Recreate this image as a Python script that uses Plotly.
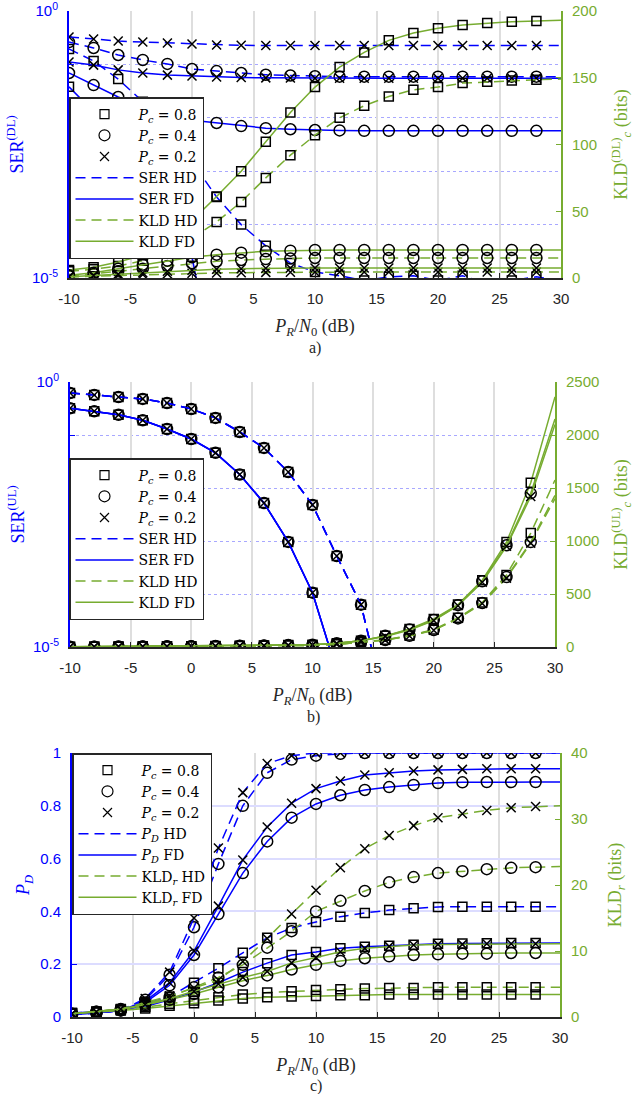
import plotly.graph_objects as go

W, H = 634, 1094
def px(x): return x / W
def py(y): return 1 - y / H

# ---------------- data ----------------
snr_db = [-10, -8, -6, -4, -2, 0, 2, 4, 6, 8, 10, 12, 14, 16, 18, 20, 22, 24, 26, 28, 30]
x_ticks = [-10, -5, 0, 5, 10, 15, 20, 25, 30]
x_tick_text = ["-10", "-5", "0", "5", "10", "15", "20", "25", "30"]
pc_labels = ["0.8", "0.4", "0.2"]

# panel a) downlink
ser_dl_hd_08 = [0.194, 0.116, 0.053, 0.02, 0.006, 0.0015, 3.3e-4, 1.0e-4, 4e-5, 1.9e-5, 1.3e-5, 1.1e-5, 9e-6, 1.05e-5, 1.1e-5, 9e-6, 1.1e-5, 8e-6, 9e-6, 1.05e-5, 9e-6]
ser_dl_fd_08 = [0.038, 0.013, 0.004, 0.0012, 2.5e-4, 2.5e-5, 1e-7, 1e-8, 1e-8, 1e-8, 1e-8, 1e-8, 1e-8, 1e-8, 1e-8, 1e-8, 1e-8, 1e-8, 1e-8, 1e-8, 1e-8]
ser_dl_hd_04 = [0.262, 0.203, 0.150, 0.121, 0.102, 0.082, 0.075, 0.069, 0.064, 0.062, 0.060, 0.059, 0.059, 0.059, 0.059, 0.059, 0.059, 0.059, 0.059, 0.059, 0.059]
ser_dl_fd_04 = [0.069, 0.041, 0.0245, 0.016, 0.011, 0.0090, 0.0080, 0.0070, 0.0064, 0.0061, 0.0059, 0.0058, 0.0057, 0.0057, 0.0057, 0.0057, 0.0057, 0.0057, 0.0057, 0.0057, 0.0057]
ser_dl_hd_02 = [0.326, 0.30, 0.274, 0.262, 0.252, 0.241, 0.231, 0.228, 0.226, 0.225, 0.225, 0.225, 0.225, 0.225, 0.225, 0.225, 0.225, 0.225, 0.225, 0.225, 0.225]
ser_dl_fd_02 = [0.111, 0.097, 0.079, 0.069, 0.063, 0.0605, 0.058, 0.057, 0.056, 0.0555, 0.055, 0.055, 0.055, 0.055, 0.055, 0.055, 0.055, 0.055, 0.055, 0.055, 0.055]
kld_dl_hd_08 = [5, 6.5, 9, 13, 20, 30, 42, 57, 75, 92, 107, 120, 129, 136, 141, 143, 146, 147, 148, 148.5, 149]
kld_dl_fd_08 = [6, 8, 12, 17, 26, 43, 61, 80, 102, 124, 143, 158, 169, 178, 183.5, 187, 189.5, 191, 192, 192.5, 193]
kld_dl_hd_04 = [1.5, 3, 5, 7, 9, 11, 12.5, 13.5, 14.2, 14.6, 15, 15, 15, 15, 15, 15, 15, 15, 15, 15, 15]
kld_dl_fd_04 = [2, 4, 7, 10, 13, 15.5, 17.5, 19, 20, 20.5, 21, 21, 21, 21, 21, 21, 21, 21, 21, 21, 21]
kld_dl_hd_02 = [0.8, 1.3, 2, 2.6, 3.1, 3.5, 3.8, 4, 4.2, 4.3, 4.5, 4.5, 4.5, 4.5, 4.5, 4.5, 4.5, 4.5, 4.5, 4.5, 4.5]
kld_dl_fd_02 = [1, 2, 3, 4, 5, 5.8, 6.5, 7, 7.3, 7.5, 7.5, 7.5, 7.5, 7.5, 7.5, 7.5, 7.5, 7.5, 7.5, 7.5, 7.5]

# panel b) uplink
ser_ul_hd = [0.62, 0.57, 0.52, 0.48, 0.40, 0.31, 0.21, 0.114, 0.057, 0.020, 0.0048, 5.2e-4, 6.3e-5, 1e-6, 1e-8, 1e-8, 1e-8, 1e-8, 1e-8, 1e-8, 1e-8]
ser_ul_fd = [0.32, 0.28, 0.24, 0.19, 0.13, 0.084, 0.046, 0.018, 0.0052, 9.6e-4, 1.06e-4, 3.5e-6, 1e-8, 1e-8, 1e-8, 1e-8, 1e-8, 1e-8, 1e-8, 1e-8, 1e-8]
kld_ul_fd_08 = [2, 3, 4, 5, 6, 8, 10, 12, 15, 18, 22, 35, 60, 105, 170, 265, 400, 630, 990, 1550, 2360]
kld_ul_fd_04 = [2, 3, 4, 5, 6, 8, 10, 12, 15, 18, 22, 35, 60, 105, 165, 255, 395, 620, 960, 1450, 2150]
kld_ul_fd_02 = [2, 3, 4, 5, 6, 8, 10, 12, 15, 18, 22, 35, 60, 100, 160, 250, 390, 610, 950, 1420, 2100]
kld_ul_hd_08 = [1, 2, 3, 4, 5, 6, 7, 9, 11, 13, 15, 25, 45, 68, 108, 165, 275, 420, 680, 1075, 1575]
kld_ul_hd_04 = [1, 2, 3, 4, 5, 6, 7, 9, 11, 13, 15, 25, 45, 66, 105, 160, 270, 415, 660, 990, 1430]
kld_ul_hd_02 = [1, 2, 3, 4, 5, 6, 7, 9, 11, 13, 15, 25, 45, 65, 104, 158, 268, 410, 650, 980, 1400]

# panel c) detection
pd_hd_08 = [0.015, 0.02, 0.03, 0.05, 0.077, 0.13, 0.185, 0.243, 0.30, 0.337, 0.36, 0.38, 0.394, 0.405, 0.412, 0.417, 0.418, 0.418, 0.418, 0.418, 0.418]
pd_fd_08 = [0.015, 0.02, 0.028, 0.04, 0.065, 0.095, 0.13, 0.17, 0.204, 0.235, 0.246, 0.26, 0.266, 0.27, 0.274, 0.277, 0.278, 0.279, 0.28, 0.28, 0.28]
pd_hd_04 = [0.01, 0.015, 0.025, 0.065, 0.16, 0.34, 0.58, 0.80, 0.925, 0.975, 0.99, 0.997, 1, 1, 1, 1, 1, 1, 1, 1, 1]
pd_fd_04 = [0.01, 0.015, 0.025, 0.055, 0.12, 0.235, 0.39, 0.545, 0.665, 0.755, 0.807, 0.84, 0.86, 0.871, 0.879, 0.886, 0.889, 0.89, 0.89, 0.89, 0.89]
pd_hd_02 = [0.01, 0.015, 0.025, 0.07, 0.17, 0.375, 0.64, 0.85, 0.96, 0.99, 1, 1, 1, 1, 1, 1, 1, 1, 1, 1, 1]
pd_fd_02 = [0.01, 0.015, 0.025, 0.06, 0.13, 0.25, 0.42, 0.595, 0.72, 0.81, 0.865, 0.894, 0.917, 0.925, 0.932, 0.936, 0.938, 0.94, 0.94, 0.94, 0.94]
kld_r_hd_08 = [0.5, 0.8, 1.1, 1.5, 2.0, 2.5, 3.0, 3.4, 3.7, 3.9, 4.1, 4.2, 4.3, 4.4, 4.4, 4.5, 4.5, 4.5, 4.5, 4.5, 4.5]
kld_r_fd_08 = [0.5, 0.7, 1.0, 1.3, 1.7, 2.1, 2.5, 2.8, 3.0, 3.1, 3.2, 3.3, 3.3, 3.4, 3.4, 3.4, 3.4, 3.4, 3.4, 3.4, 3.4]
kld_r_hd_04 = [0.5, 0.8, 1.2, 2.0, 3.0, 4.5, 6.0, 7.9, 10.5, 13.0, 16.0, 17.6, 19.1, 20.4, 21.2, 21.8, 22.1, 22.4, 22.6, 22.7, 22.8]
kld_r_fd_04 = [0.5, 0.8, 1.1, 1.8, 2.6, 3.5, 4.5, 5.5, 6.3, 7.2, 7.9, 8.5, 8.9, 9.2, 9.4, 9.5, 9.6, 9.6, 9.7, 9.7, 9.7]
kld_r_hd_02 = [0.5, 0.8, 1.2, 2.2, 3.2, 4.4, 5.6, 8.4, 11.9, 15.6, 19.2, 22.6, 25.5, 27.5, 29.0, 30.2, 30.8, 31.3, 31.7, 31.9, 32.0]
kld_r_fd_02 = [0.5, 0.8, 1.2, 1.9, 2.8, 3.9, 5.0, 6.0, 6.9, 8.2, 9.0, 9.9, 10.4, 10.7, 10.9, 11.0, 11.0, 11.1, 11.1, 11.1, 11.1]

# ---------------- styles ----------------
BLUE = "#0000ff"
GREEN = "#77ac30"
DARK = "#262626"
GRIDX = "#dedede"
GRIDY = "#dcdcff"
DOTY = "#a8a8ff"
SERIF = "Liberation Serif"
LEGFONT = "DejaVu Serif"
SANS = "Liberation Sans"
DASH = "10px,6px"
SYM = {"0.8": ("square-open", 9), "0.4": ("circle-open", 11), "0.2": ("x-thin-open", 9)}

fig = go.Figure()

def add_series(xa, ya, vals, color, dash, pc):
    fig.add_trace(go.Scatter(x=snr_db, y=vals, mode="lines", xaxis=xa, yaxis=ya,
                             line=dict(color=color, width=1.5, dash=dash),
                             showlegend=False, hoverinfo="skip"))
    sym, sz = SYM[pc]
    fig.add_trace(go.Scatter(x=snr_db[:-1], y=vals[:-1], mode="markers", xaxis=xa, yaxis=ya,
                             marker=dict(symbol=sym, size=sz, color="black",
                                         line=dict(color="black", width=1.5)),
                             showlegend=False, hoverinfo="skip"))

# panel a
for pc, hd, fd in [("0.8", ser_dl_hd_08, ser_dl_fd_08), ("0.4", ser_dl_hd_04, ser_dl_fd_04), ("0.2", ser_dl_hd_02, ser_dl_fd_02)]:
    add_series("x", "y", hd, BLUE, DASH, pc)
    add_series("x", "y", fd, BLUE, "solid", pc)
for pc, hd, fd in [("0.8", kld_dl_hd_08, kld_dl_fd_08), ("0.4", kld_dl_hd_04, kld_dl_fd_04), ("0.2", kld_dl_hd_02, kld_dl_fd_02)]:
    add_series("x", "y2", hd, GREEN, DASH, pc)
    add_series("x", "y2", fd, GREEN, "solid", pc)

# panel b
for pc in pc_labels:
    add_series("x2", "y3", ser_ul_hd, BLUE, DASH, pc)
    add_series("x2", "y3", ser_ul_fd, BLUE, "solid", pc)
for pc, hd, fd in [("0.8", kld_ul_hd_08, kld_ul_fd_08), ("0.4", kld_ul_hd_04, kld_ul_fd_04), ("0.2", kld_ul_hd_02, kld_ul_fd_02)]:
    add_series("x2", "y4", hd, GREEN, DASH, pc)
    add_series("x2", "y4", fd, GREEN, "solid", pc)

# panel c
for pc, hd, fd in [("0.8", pd_hd_08, pd_fd_08), ("0.4", pd_hd_04, pd_fd_04), ("0.2", pd_hd_02, pd_fd_02)]:
    add_series("x3", "y5", hd, BLUE, DASH, pc)
    add_series("x3", "y5", fd, BLUE, "solid", pc)
for pc, hd, fd in [("0.8", kld_r_hd_08, kld_r_fd_08), ("0.4", kld_r_hd_04, kld_r_fd_04), ("0.2", kld_r_hd_02, kld_r_fd_02)]:
    add_series("x3", "y6", hd, GREEN, DASH, pc)
    add_series("x3", "y6", fd, GREEN, "solid", pc)

# legends
def legend_entries(lg, names):
    for pc in pc_labels:
        sym, sz = SYM[pc]
        fig.add_trace(go.Scatter(x=[None], y=[None], mode="markers", legend=lg,
                                 marker=dict(symbol=sym, size=sz, color="black", line=dict(color="black", width=1.2)),
                                 name="<i>P<sub>c</sub></i> = " + pc))
    for name, color, dash in zip(names, [BLUE, BLUE, GREEN, GREEN], [DASH, "solid", DASH, "solid"]):
        fig.add_trace(go.Scatter(x=[None], y=[None], mode="lines", legend=lg,
                                 line=dict(color=color, width=1.5, dash=dash), name=name))

legend_entries("legend", ["SER HD", "SER FD", "KLD HD", "KLD FD"])
legend_entries("legend2", ["SER HD", "SER FD", "KLD HD", "KLD FD"])
legend_entries("legend3", ["<i>P<sub>D</sub></i> HD", "<i>P<sub>D</sub></i> FD",
                           "KLD<sub><i>r</i></sub> HD", "KLD<sub><i>r</i></sub> FD"])

def leg(x, y):
    return dict(x=px(x), y=py(y), xanchor="left", yanchor="top", bgcolor="white",
                bordercolor=DARK, borderwidth=1.5, font=dict(family=LEGFONT, size=14, color="black"),
                itemwidth=58, tracegroupgap=0)

xtitle = "<i>P<sub>R</sub></i>/<i>N</i><sub>0</sub> (dB)"

def xax(x0, x1, anchor):
    return dict(domain=[px(x0), px(x1)], anchor=anchor, range=[-10, 30], tickvals=x_ticks,
                ticktext=x_tick_text, automargin=False,
                ticks="inside", ticklen=5, tickwidth=1, tickcolor=DARK, showline=True, linecolor=DARK,
                linewidth=1.5, showgrid=True, gridcolor=GRIDX, gridwidth=1.5, zeroline=False,
                tickfont=dict(family=SANS, size=15, color=DARK), ticklabelstandoff=6,
                title=dict(text=xtitle, font=dict(family=SERIF, size=18, color=DARK), standoff=14))

def ylog(y0, y1, anchor, title):
    return dict(domain=[py(y1), py(y0)], anchor=anchor, type="log", range=[-5, 0],
                tickvals=[1e-5, 1], ticktext=["10<sup>-5</sup>", "10<sup>0</sup>"], automargin=False,
                ticklabeloverflow="allow",
                ticks="inside", ticklen=5, tickcolor=BLUE, showline=True, linecolor=BLUE, linewidth=2,
                showgrid=True, gridcolor=GRIDY, gridwidth=1.5, zeroline=False,
                minor=dict(tickvals=[1e-4, 1e-3, 1e-2, 1e-1], showgrid=True, gridcolor=DOTY,
                           griddash="dot", gridwidth=1, ticks="inside", ticklen=5, tickcolor=BLUE),
                tickfont=dict(family=SANS, size=15, color=BLUE), ticklabelstandoff=6,
                title=dict(text=title, font=dict(family=SERIF, size=18, color=BLUE), standoff=4))

def yright(overlay, anchor, rng, dt, title, standoff):
    return dict(overlaying=overlay, side="right", anchor=anchor, range=rng, automargin=False,
                ticklabeloverflow="allow",
                tickvals=list(range(0, rng[1] + 1, dt)), ticks="inside", ticklen=5, tickcolor=GREEN,
                showline=True, linecolor=GREEN, linewidth=2, showgrid=False, zeroline=False,
                tickfont=dict(family=SANS, size=15, color=GREEN), ticklabelstandoff=6,
                title=dict(text=title, font=dict(family=SERIF, size=18, color=GREEN), standoff=standoff))

def cap(text, x, y):
    return dict(text=text, x=px(x), y=py(y), xref="paper", yref="paper", showarrow=False,
                xanchor="center", yanchor="middle", font=dict(family=SERIF, size=16, color=DARK))

fig.update_layout(
    width=W, height=H, margin=dict(l=0, r=0, t=0, b=0, autoexpand=False),
    paper_bgcolor="white", plot_bgcolor="white",
    legend=leg(69, 97), legend2=leg(69, 458), legend3=leg(72, 753),
    xaxis=xax(69, 561, "y"),
    yaxis=ylog(11, 278, "x", "SER<sup>(DL)</sup>"),
    yaxis2=yright("y", "x", [0, 200], 50, "KLD<sup>(DL)</sup><sub><i>c</i></sub> (bits)", 30),
    xaxis2=xax(70, 555, "y3"),
    yaxis3=ylog(382, 647, "x2", "SER<sup>(UL)</sup>"),
    yaxis4=yright("y3", "x2", [0, 2500], 500, "KLD<sup>(UL)</sup><sub><i>c</i></sub> (bits)", 26),
    xaxis3=xax(72, 560, "y5"),
    yaxis5=dict(domain=[py(1017), py(753)], anchor="x3", range=[0, 1], tickvals=[0, 0.2, 0.4, 0.6, 0.8, 1],
                ticktext=["0", "0.2", "0.4", "0.6", "0.8", "1"], automargin=False,
                ticklabeloverflow="allow",
                ticks="inside", ticklen=5, tickcolor=BLUE, showline=True, linecolor=BLUE, linewidth=2,
                showgrid=True, gridcolor=GRIDY, gridwidth=1.5, zeroline=False,
                tickfont=dict(family=SANS, size=15, color=BLUE), ticklabelstandoff=6,
                title=dict(text="<i>P<sub>D</sub></i>", font=dict(family=SERIF, size=18, color=BLUE), standoff=6)),
    yaxis6=yright("y5", "x3", [0, 40], 10, "KLD<sub><i>r</i></sub> (bits)", 22),
    annotations=[cap("a)", 315, 348), cap("b)", 313, 717), cap("c)", 316, 1086)],
)

fig.write_html("out.html", post_script="document.body.style.margin='0';",
               config={"displayModeBar": False})
